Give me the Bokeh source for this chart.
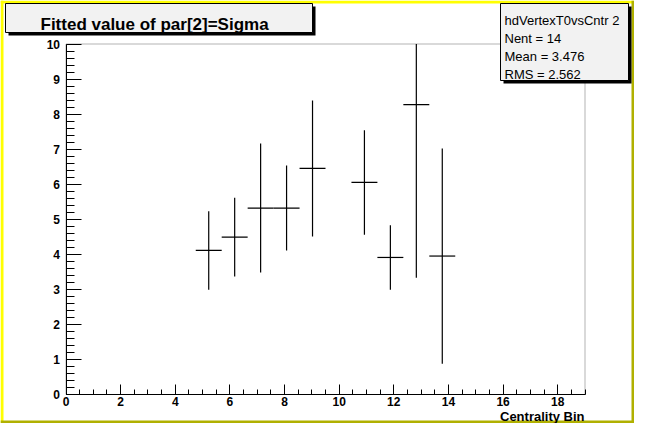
from bokeh.plotting import figure
from bokeh.models import Range1d, SingleIntervalTicker, BoxAnnotation, Label, ColumnDataSource
from bokeh.embed import file_html
from bokeh.resources import INLINE

# ---- data ----
bin_center = [5.225, 6.175, 7.125, 8.075, 9.025, 10.925, 11.875, 12.825, 13.775]
bin_half_width = [0.475, 0.475, 0.475, 0.475, 0.475, 0.475, 0.475, 0.475, 0.475]
sigma_value = [4.11, 4.49, 5.32, 5.32, 6.45, 6.05, 3.91, 8.27, 3.95]
sigma_error = [1.12, 1.12, 1.84, 1.21, 1.94, 1.49, 0.92, 4.94, 3.07]
x_axis_limits = [0, 19]
y_axis_limits = [0, 10]
x_ticks = [0, 2, 4, 6, 8, 10, 12, 14, 16, 18]
y_ticks = [0, 1, 2, 3, 4, 5, 6, 7, 8, 9, 10]
title_text = "Fitted value of par[2]=Sigma"
stats_lines = ["hdVertexT0vsCntr 2", "Nent = 14", "Mean  = 3.476", "RMS   = 2.562"]
x_label = "Centrality Bin"

FONT = "Liberation Sans"

# ---- layout (pixels) ----
W, H = 634, 423
FR_L, FR_R, FR_T, FR_B = 65.5, 584.5, 43.5, 394   # data frame in canvas pixels

x0d, x1d = x_axis_limits
y0d, y1d = y_axis_limits
xs = (FR_R - FR_L) / (x1d - x0d)
ys = (FR_B - FR_T) / (y1d - y0d)
x_range = Range1d(x0d - FR_L / xs, x0d + (W - FR_L) / xs)
y_range = Range1d(y0d - (H - FR_B) / ys, y0d + FR_B / ys)

y_top_clip = y_axis_limits[1]
src = ColumnDataSource(dict(
    x=bin_center,
    x0=[c - h for c, h in zip(bin_center, bin_half_width)],
    x1=[c + h for c, h in zip(bin_center, bin_half_width)],
    y=sigma_value,
    y0=[v - e for v, e in zip(sigma_value, sigma_error)],
    y1=[min(v + e, y_top_clip) for v, e in zip(sigma_value, sigma_error)],
))

p = figure(width=W, height=H, x_range=x_range, y_range=y_range, title=None,
           output_backend="svg", toolbar_location=None,
           min_border=0, min_border_left=0, min_border_right=0,
           min_border_top=0, min_border_bottom=0,
           background_fill_color="white", border_fill_color="white",
           outline_line_color=None)
p.grid.visible = False

# data frame box
p.add_layout(BoxAnnotation(left=x0d, right=x1d, bottom=y0d, top=y1d,
                           fill_alpha=0.0, line_color="black", line_width=1))

p.segment(x0="x", y0="y0", x1="x", y1="y1", source=src, line_color="black", line_width=1.2)
p.segment(x0="x0", y0="y", x1="x1", y1="y", source=src, line_color="black", line_width=1.2)

p.xaxis.ticker = SingleIntervalTicker(interval=2, num_minor_ticks=4)
p.xaxis.major_label_overrides = {t: str(t) for t in x_ticks}
p.xaxis.fixed_location = y0d
p.xaxis.bounds = tuple(x_axis_limits)
p.yaxis.ticker = SingleIntervalTicker(interval=1, num_minor_ticks=5)
p.yaxis.major_label_overrides = {t: str(t) for t in y_ticks}
p.yaxis.fixed_location = x0d
p.yaxis.bounds = tuple(y_axis_limits)

for ax, maj, mnr, stand in ((p.xaxis, 10, 5, 2), (p.yaxis, 15, 8, 6)):
    ax.major_tick_in = maj
    ax.major_tick_out = 0
    ax.minor_tick_in = mnr
    ax.minor_tick_out = 0
    ax.axis_line_color = "black"
    ax.major_tick_line_color = "black"
    ax.minor_tick_line_color = "black"
    ax.major_label_text_font = FONT
    ax.major_label_text_font_style = "bold"
    ax.major_label_text_font_size = "12px"
    ax.major_label_text_color = "black"
    ax.major_label_standoff = stand

# screen helpers: canvas pixel (X from left, Y from top) -> screen units of the frame
def sx(X):
    return X

def sy(Y):
    return H - Y

def box(x0, y0, x1, y1, fill, line=None):
    p.add_layout(BoxAnnotation(left=sx(x0), right=sx(x1), top=sy(y0), bottom=sy(y1),
                               left_units="screen", right_units="screen",
                               top_units="screen", bottom_units="screen",
                               fill_color=fill, fill_alpha=1.0,
                               line_color=line if line else fill,
                               line_alpha=1.0 if line else 0.0, line_width=1))

# canvas bevel border
box(0, 0, W, 3, "#ffff00")
box(0, 0, 3, H, "#ffff00")
box(W - 3, 0, W, H, "#b0b000")
box(0, H - 3, W, H, "#b0b000")

# title pave
box(8, 6, 315, 35, "black")
box(5, 3, 312, 32, "#f2f2f2", "black")
p.add_layout(Label(x=sx(40), y=sy(24), x_units="screen", y_units="screen",
                   text=title_text, text_font=FONT, text_font_style="bold",
                   text_font_size="17px", text_color="black",
                   text_align="left", text_baseline="alphabetic"))

# stats pave
box(503, 6, 631, 83, "black")
box(500, 3, 628, 80, "#f2f2f2", "black")
for i, line in enumerate(stats_lines):
    p.add_layout(Label(x=sx(504), y=sy(20 + 18 * i), x_units="screen", y_units="screen",
                       text=line, text_font=FONT, text_font_size="13px", text_color="black",
                       text_align="left", text_baseline="alphabetic"))

# x axis title, right-aligned at the frame's right edge
p.add_layout(Label(x=sx(584), y=sy(416), x_units="screen", y_units="screen",
                   text=x_label, text_font=FONT, text_font_style="bold",
                   text_font_size="13px", text_color="black",
                   text_align="right", text_baseline="alphabetic"))

open("out.html", "w").write(file_html(p, INLINE))
